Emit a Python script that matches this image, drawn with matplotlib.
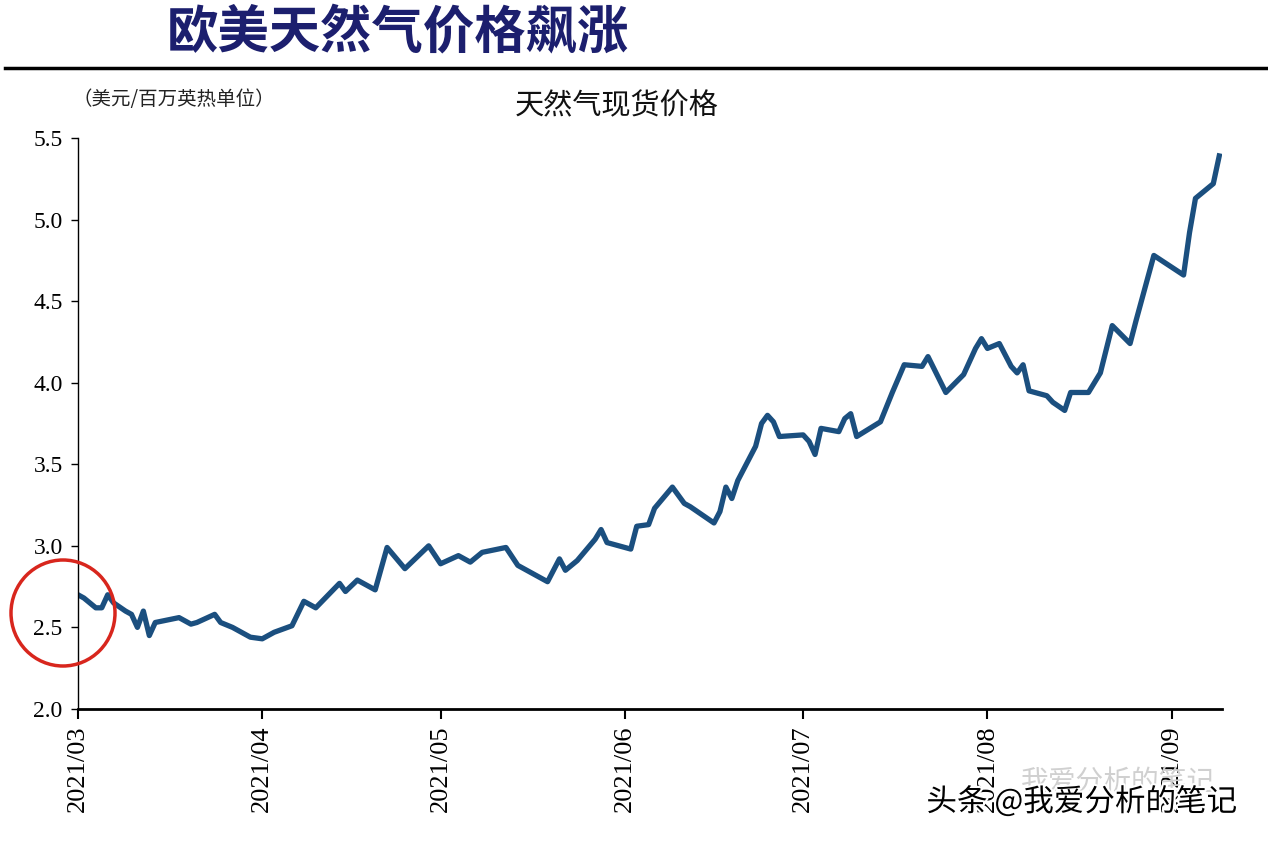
import numpy as np
import pandas as pd
import matplotlib
matplotlib.use("Agg")
import matplotlib.pyplot as plt
import matplotlib.dates as mdates
from matplotlib.patches import Ellipse
import matplotlib.patheffects as pe

plt.rcParams['font.family'] = ['Noto Sans CJK SC', 'DejaVu Sans']

# natural gas spot price, USD / MMBtu
dates = ["2021-03-01", "2021-03-02", "2021-03-04", "2021-03-05", "2021-03-06", "2021-03-07",
         "2021-03-09", "2021-03-10", "2021-03-11", "2021-03-12", "2021-03-13", "2021-03-14",
         "2021-03-18", "2021-03-20", "2021-03-21", "2021-03-24", "2021-03-25", "2021-03-27",
         "2021-03-30", "2021-04-01", "2021-04-03", "2021-04-06", "2021-04-08", "2021-04-10",
         "2021-04-14", "2021-04-15", "2021-04-17", "2021-04-20", "2021-04-22", "2021-04-25",
         "2021-04-29", "2021-05-01", "2021-05-04", "2021-05-06", "2021-05-08", "2021-05-12",
         "2021-05-14", "2021-05-19", "2021-05-21", "2021-05-22", "2021-05-24", "2021-05-27",
         "2021-05-28", "2021-05-29", "2021-06-02", "2021-06-03", "2021-06-05", "2021-06-06",
         "2021-06-09", "2021-06-11", "2021-06-12", "2021-06-16", "2021-06-17", "2021-06-18",
         "2021-06-19", "2021-06-20", "2021-06-23", "2021-06-24", "2021-06-25", "2021-06-26",
         "2021-06-27", "2021-07-01", "2021-07-02", "2021-07-03", "2021-07-04", "2021-07-07",
         "2021-07-08", "2021-07-09", "2021-07-10", "2021-07-14", "2021-07-16", "2021-07-18",
         "2021-07-21", "2021-07-22", "2021-07-25", "2021-07-28", "2021-07-30", "2021-07-31",
         "2021-08-01", "2021-08-03", "2021-08-05", "2021-08-06", "2021-08-07", "2021-08-08",
         "2021-08-11", "2021-08-12", "2021-08-14", "2021-08-15", "2021-08-18", "2021-08-20",
         "2021-08-22", "2021-08-25", "2021-08-26", "2021-08-29", "2021-09-03", "2021-09-04",
         "2021-09-05", "2021-09-08", "2021-09-09"]
prices = [2.70, 2.68, 2.62, 2.62, 2.70, 2.65,
          2.60, 2.58, 2.50, 2.60, 2.45, 2.53,
          2.56, 2.52, 2.53, 2.58, 2.53, 2.50,
          2.44, 2.43, 2.47, 2.51, 2.66, 2.62,
          2.77, 2.72, 2.79, 2.73, 2.99, 2.86,
          3.00, 2.89, 2.94, 2.90, 2.96, 2.99,
          2.88, 2.78, 2.92, 2.85, 2.91, 3.04,
          3.10, 3.02, 2.98, 3.12, 3.13, 3.23,
          3.36, 3.26, 3.24, 3.14, 3.21, 3.36,
          3.29, 3.40, 3.61, 3.75, 3.80, 3.76,
          3.67, 3.68, 3.64, 3.56, 3.72, 3.70,
          3.78, 3.81, 3.67, 3.76, 3.94, 4.11,
          4.10, 4.16, 3.94, 4.05, 4.21, 4.27,
          4.21, 4.24, 4.10, 4.06, 4.11, 3.95,
          3.92, 3.88, 3.83, 3.94, 3.94, 4.06,
          4.35, 4.24, 4.38, 4.78, 4.66, 4.92,
          5.13, 5.22, 5.39]

month_ticks = ["2021-03-01", "2021-04-01", "2021-05-01", "2021-06-01",
               "2021-07-01", "2021-08-01", "2021-09-01"]
y_ticks = [2.0, 2.5, 3.0, 3.5, 4.0, 4.5, 5.0, 5.5]

x = pd.to_datetime(dates)

fig = plt.figure(figsize=(12.68, 8.44), dpi=100)
ax = fig.add_axes([0.0615, 0.160, 0.902, 0.6765])

ax.plot(x, prices, color='#1b4f7f', lw=3.8, solid_joinstyle='round')

ax.set_xlim(pd.Timestamp("2021-03-01"), pd.Timestamp("2021-09-09 10:00"))
ax.set_ylim(2.0, 5.5)
ax.set_yticks(y_ticks)
ax.set_yticklabels(["%.1f" % v for v in y_ticks], family='Liberation Serif', fontsize=17)
ax.set_xticks(pd.to_datetime(month_ticks))
ax.xaxis.set_major_formatter(mdates.DateFormatter("%Y/%m"))
for lab in ax.get_xticklabels():
    lab.set_rotation(90)
    lab.set_family('Liberation Serif')
    lab.set_fontsize(19)

ax.spines['top'].set_visible(False)
ax.spines['right'].set_visible(False)
ax.spines['left'].set_linewidth(1.0)
ax.spines['bottom'].set_linewidth(2.0)
ax.tick_params(axis='y', direction='out', length=5, width=1, pad=6)
ax.tick_params(axis='x', direction='out', length=7, width=1.5, pad=5)

# header
fig.text(0.314, 0.962, "欧美天然气价格飙涨", fontsize=37, fontweight='bold',
         color='#1c1f6e', ha='center', va='center')
fig.add_artist(plt.Line2D([0.004, 1.0], [0.919, 0.919], color='black', lw=2.5))
fig.text(0.137, 0.882, "（美元/百万英热单位）", fontsize=14, color='#222222',
         ha='center', va='center')
fig.text(0.486, 0.874, "天然气现货价格", fontsize=21, color='#111111',
         ha='center', va='center')

# red circle highlight around the start of the series
fig.add_artist(Ellipse((63 / 1268, 1 - 613 / 844), 104 / 1268, 106 / 844,
                       fill=False, edgecolor='#d8261d', lw=2.5))

# watermark
fig.text(0.805, 0.074, "我爱分析的笔记", fontsize=20, color='#d0d0d0',
         ha='left', va='center')
fig.text(0.853, 0.050, "头条 @我爱分析的笔记", fontsize=22, color='black',
         ha='center', va='center',
         path_effects=[pe.withStroke(linewidth=3, foreground='white')])

fig.savefig("out.png", dpi=100)
